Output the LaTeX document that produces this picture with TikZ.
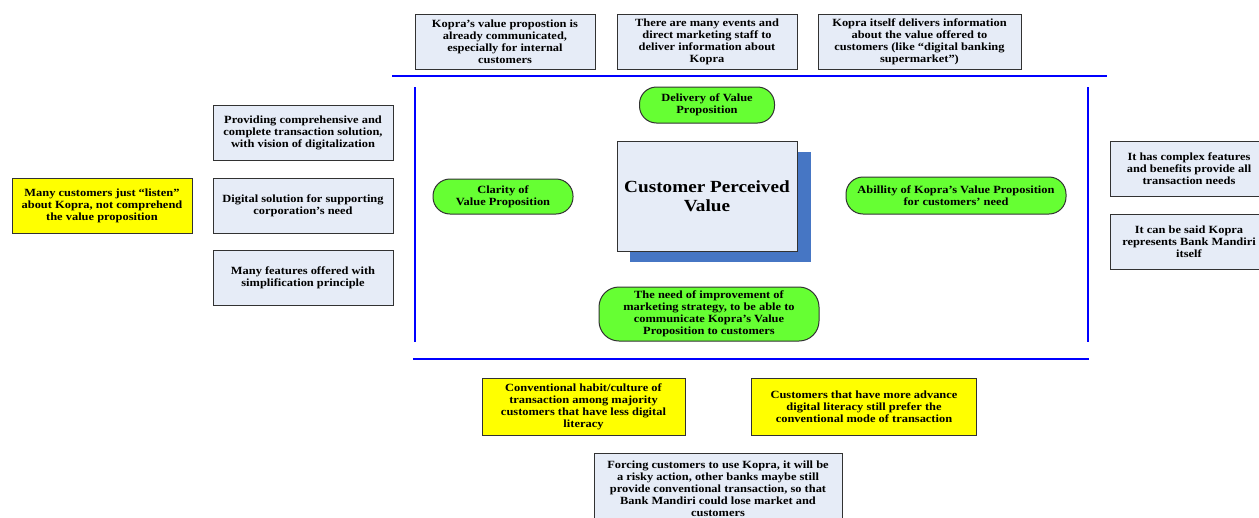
\documentclass[tikz,border=0pt]{standalone}
\usepackage{fontspec}
\setmainfont{Liberation Serif}[FakeStretch=1.13]
\definecolor{lightbox}{RGB}{230,236,247}
\definecolor{yellowbox}{RGB}{255,255,0}
\definecolor{greenbox}{RGB}{102,255,51}
\definecolor{edgegray}{RGB}{50,50,50}
\definecolor{shadowblue}{RGB}{70,118,196}
\definecolor{divider}{RGB}{0,0,255}
\tikzset{
  boxbase/.style={draw=edgegray, line width=1pt, align=center, inner sep=0pt,
    font=\bfseries\fontsize{11}{12}\selectfont},
  lbox/.style={boxbase, fill=lightbox},
  ybox/.style={boxbase, fill=yellowbox},
  gpill/.style={boxbase, fill=greenbox, rounded corners=17pt},
  divline/.style={draw=divider, line width=1.6pt},
}
\begin{document}
\begin{tikzpicture}[x=1pt,y=-1pt]
\clip (0,0) rectangle (1259,517);
\fill[white] (0,0) rectangle (1259,517);

% dividers
\coordinate (topL) at (392,76);
\coordinate (topR) at (1107,76);
\coordinate (botL) at (413,359);
\coordinate (botR) at (1089,359);
\coordinate (lvT) at (415,87);
\coordinate (lvB) at (415,342);
\coordinate (rvT) at (1088,87);
\coordinate (rvB) at (1088,342);
\draw[divline] (topL) -- (topR);
\draw[divline] (botL) -- (botR);
\draw[divline] (lvT) -- (lvB);
\draw[divline] (rvT) -- (rvB);

% top boxes
\node[lbox, minimum width=180pt, minimum height=55pt] (t1) at (505,41.5)
  {Kopra’s value propostion is\\already communicated,\\especially for internal\\customers};
\node[lbox, minimum width=180pt, minimum height=55pt] (t2) at (707,41.5)
  {There are many events and\\direct marketing staff to\\deliver information about\\Kopra};
\node[lbox, minimum width=203pt, minimum height=55pt] (t3) at (919.5,41.5)
  {Kopra itself delivers information\\about the value offered to\\customers (like “digital banking\\supermarket”)};

% left boxes
\node[lbox, minimum width=180pt, minimum height=55pt] (l1) at (303,132.5)
  {Providing comprehensive and\\complete transaction solution,\\with vision of digitalization};
\node[lbox, minimum width=180pt, minimum height=55pt] (l2) at (303,205.5)
  {Digital solution for supporting\\corporation’s need};
\node[lbox, minimum width=180pt, minimum height=55pt] (l3) at (303,278)
  {Many features offered with\\simplification principle};
\node[ybox, minimum width=180pt, minimum height=55pt] (y1) at (102,205.5)
  {Many customers just “listen”\\about Kopra, not comprehend\\the value proposition};

% center
\fill[shadowblue] (630,152) rectangle (811,262);
\node[lbox, minimum width=180pt, minimum height=110pt,
  font=\bfseries\fontsize{17}{19}\selectfont] (cpv) at (707,196)
  {Customer Perceived\\Value};

% green pills
\node[gpill, minimum width=135pt, minimum height=36pt] (del) at (707,105)
  {Delivery of Value\\Proposition};
\node[gpill, minimum width=140pt, minimum height=35pt] (cla) at (503,196.5)
  {Clarity of\\Value Proposition};
\node[gpill, minimum width=220pt, minimum height=37pt] (abi) at (956,195.5)
  {Abillity of Kopra’s Value Proposition\\for customers’ need};
\node[gpill, minimum width=220pt, minimum height=54pt, rounded corners=20pt] (need) at (709,314)
  {The need of improvement of\\marketing strategy, to be able to\\communicate Kopra’s Value\\Proposition to customers};

% right boxes
\node[lbox, minimum width=158pt, minimum height=55pt] (r1) at (1189,168.5)
  {It has complex features\\and benefits provide all\\transaction needs};
\node[lbox, minimum width=158pt, minimum height=55pt] (r2) at (1189,241.5)
  {It can be said Kopra\\represents Bank Mandiri\\itself};

% bottom boxes
\node[ybox, minimum width=203pt, minimum height=57pt] (b1) at (583.5,406.5)
  {Conventional habit/culture of\\transaction among majority\\customers that have less digital\\literacy};
\node[ybox, minimum width=225pt, minimum height=57pt] (b2) at (864,406.5)
  {Customers that have more advance\\digital literacy still prefer the\\conventional mode of transaction};
\node[lbox, minimum width=248pt, minimum height=70pt, anchor=north] (b3) at (718,453)
  {Forcing customers to use Kopra, it will be\\a risky action, other banks maybe still\\provide conventional transaction, so that\\Bank Mandiri could lose market and\\customers};
\end{tikzpicture}
\end{document}
